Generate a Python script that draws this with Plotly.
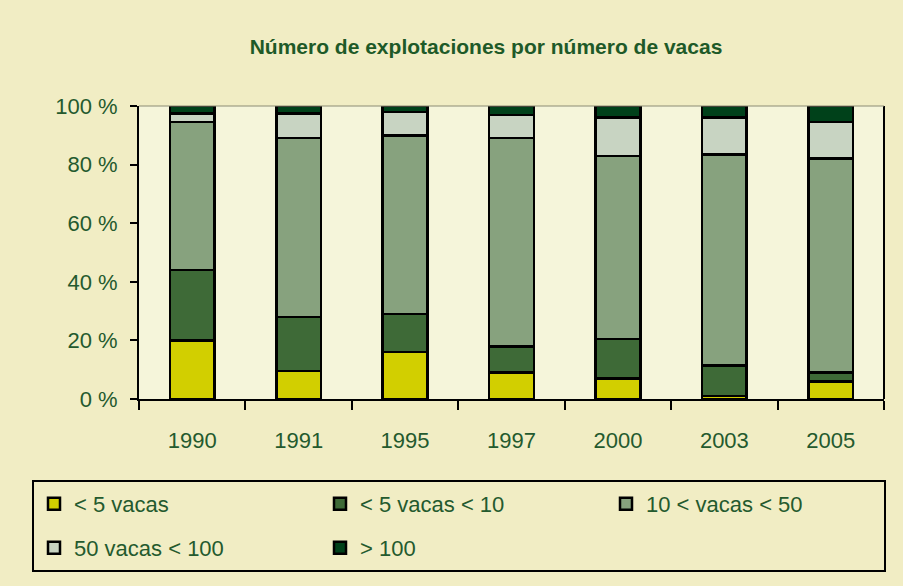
import plotly.graph_objects as go

years = ["1990", "1991", "1995", "1997", "2000", "2003", "2005"]
series_names = ["< 5 vacas", "< 5 vacas < 10", "10 < vacas < 50", "50 vacas < 100", "> 100"]
lt5 = [20, 9.5, 16, 9, 7, 1, 6]
v5_10 = [24, 18.5, 13, 9, 13.5, 10.5, 3]
v10_50 = [50.5, 61, 61, 71, 62.5, 72, 73]
v50_100 = [3, 8.5, 8, 8, 13, 12.5, 12.5]
gt100 = [2.5, 2.5, 2, 3, 4, 4, 5.5]
y_ticks = [0, 20, 40, 60, 80, 100]
y_tick_labels = [f"{v} %" for v in y_ticks]

values = [lt5, v5_10, v10_50, v50_100, gt100]
colors = ["#D2CF00", "#3E6A37", "#87A27E", "#C8D4C2", "#00411A"]
legends = ["legend", "legend", "legend", "legend2", "legend2"]

TXT = "#245A2E"
FONT = "Liberation Sans, Arial, sans-serif"
W, H = 903, 586
L, R, T, B = 139, 19, 106, 187
pw, ph = W - L - R, H - T - B

def px(x):
    return (x - L) / pw

def py(y):
    return (H - B - y) / ph

fig = go.Figure()
for name, vals, col, lg in zip(series_names, values, colors, legends):
    fig.add_trace(go.Bar(
        x=years, y=vals, name=name, legend=lg,
        marker=dict(color=col, line=dict(color="black", width=2.5)),
    ))

legend_common = dict(orientation="h", x=px(34), xanchor="left", yanchor="middle",
                     entrywidth=241, entrywidthmode="pixels", bgcolor="rgba(0,0,0,0)",
                     font=dict(size=22, color=TXT, family=FONT), traceorder="normal")

fig.update_layout(
    width=W, height=H,
    barmode="stack", bargap=0.58,
    paper_bgcolor="#F1EDC4", plot_bgcolor="#F5F5DA",
    margin=dict(l=L, r=R, t=T, b=B),
    font=dict(family=FONT, color=TXT, size=22),
    title=dict(text="<b>Número de explotaciones por número de vacas</b>",
               x=486 / W, xref="container", xanchor="center",
               y=1 - 47 / H, yref="container", yanchor="middle",
               font=dict(size=21, color="#1E5A28", family=FONT)),
    legend=dict(legend_common, y=py(504)),
    legend2=dict(legend_common, y=py(548)),
    showlegend=True,
)
fig.update_xaxes(showline=True, linecolor="black", linewidth=2,
                 ticks="outside", tickson="boundaries", ticklen=9, tickwidth=2, tickcolor="black",
                 ticklabelstandoff=21, showgrid=False)
fig.update_yaxes(range=[0, 100], tickvals=y_ticks, ticktext=y_tick_labels,
                 showline=True, linecolor="black", linewidth=2, mirror=False,
                 ticks="outside", ticklen=7, tickwidth=2, tickcolor="black",
                 ticklabelstandoff=8, showgrid=False, zeroline=False)
# right frame line and thin top line of plot area, legend frame
fig.add_shape(type="line", xref="paper", yref="paper", x0=1, x1=1, y0=0, y1=1,
              line=dict(color="black", width=2))
fig.add_shape(type="line", xref="paper", yref="paper", x0=0, x1=1, y0=1, y1=1,
              line=dict(color="#8C8C74", width=1))
fig.add_shape(type="rect", xref="paper", yref="paper",
              x0=px(33), x1=px(885), y0=py(571), y1=py(481),
              line=dict(color="black", width=2), fillcolor="rgba(0,0,0,0)", layer="below")

fig.write_html("out.html", config={"displayModeBar": False},
               post_script="document.body.style.margin='0';document.body.style.background='#F1EDC4';")
